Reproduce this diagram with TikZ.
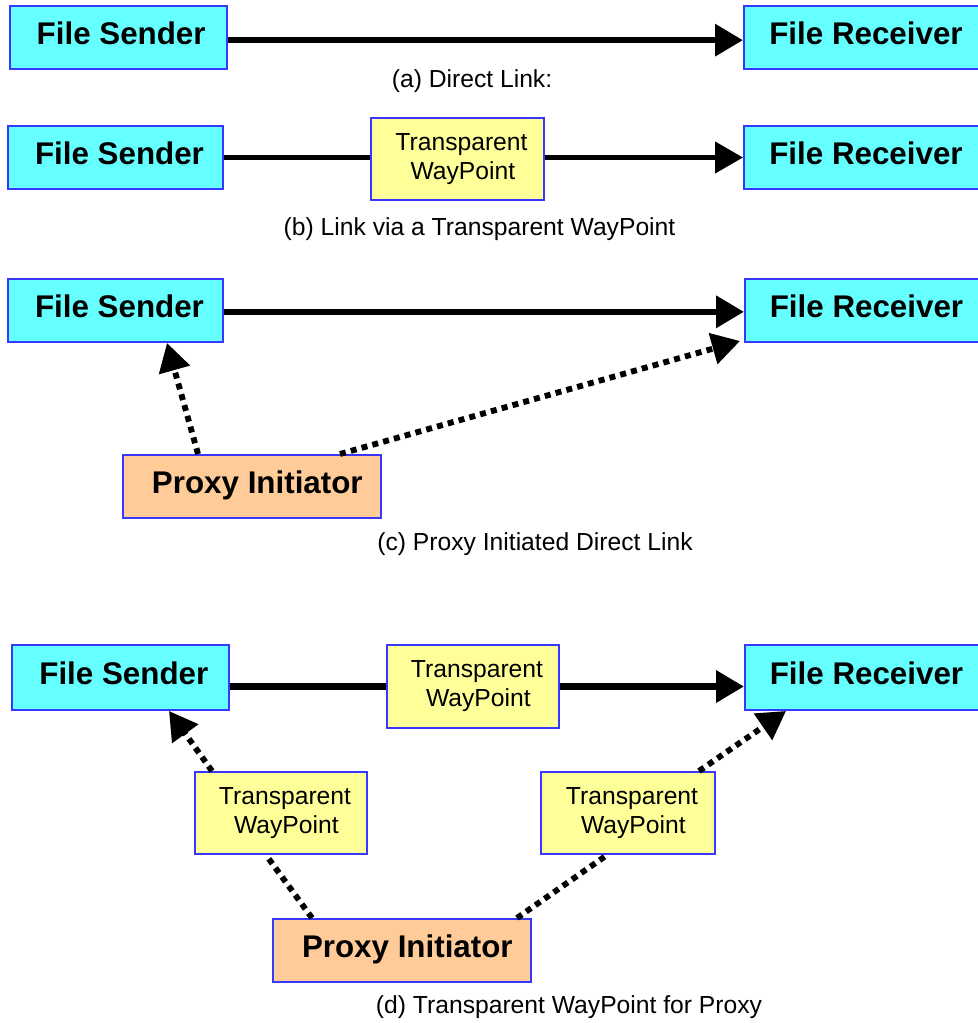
\documentclass[tikz,border=0pt]{standalone}
\usepackage{fontspec}
\setmainfont{Liberation Sans}
\usetikzlibrary{arrows.meta,calc}
\definecolor{boxcyan}{RGB}{102,255,255}
\definecolor{boxyellow}{RGB}{255,255,153}
\definecolor{boxpeach}{RGB}{255,204,153}
\definecolor{boxedge}{RGB}{55,55,255}
\begin{document}
\begin{tikzpicture}[x=0.75pt,y=-0.75pt,
  basebox/.style={draw=boxedge, line width=1.5pt, inner sep=0pt},
  endpoint/.style={basebox, fill=boxcyan, minimum height=47.25pt,
    text height=17pt, text depth=5.9pt,
    font=\fontsize{23.5}{28}\selectfont\bfseries},
  proxybox/.style={basebox, fill=boxpeach, minimum width=193.5pt, minimum height=47.25pt,
    text height=17pt, text depth=5.9pt,
    font=\fontsize{23.5}{28}\selectfont\bfseries},
  waybox/.style={basebox, fill=boxyellow, minimum height=61.5pt, align=center,
    font=\fontsize{18.5}{21.75}\selectfont},
  caption/.style={inner sep=0pt, font=\fontsize{18.5}{22}\selectfont},
  tip/.style={-{Triangle[length=21pt,width=23.25pt]}},
  thicklink/.style={line width=4.9pt},
  thinlink/.style={line width=3.4pt},
  dotlink/.style={line width=4.4pt, dash pattern=on 4.5pt off 3.9pt},
]
\useasboundingbox (0,0) rectangle (977,1023);

% (a) direct link
\node[endpoint, minimum width=162.75pt] (S1) at (118.5,37.5) {\hspace*{4pt}File Sender};
\node[endpoint, minimum width=183pt] (R1) at (866,37.5) {File Receiver};
\draw[thicklink, tip] ([yshift=-2pt]S1.east) -- ([yshift=-2pt]R1.west);
\node[caption] (capA) at (472,81) {(a) Direct Link:};

% (b) link through a transparent waypoint
\node[endpoint, minimum width=161.25pt] (S2) at (115.5,157.5) {\hspace*{6pt}File Sender};
\node[waybox, minimum width=129.75pt] (W2) at (457.5,159) {\hspace*{6pt}Transparent\\\hspace*{8pt}WayPoint};
\node[endpoint, minimum width=183pt] (R2) at (866,157.5) {File Receiver};
\draw[thinlink] (S2.east) -- (S2.east -| W2.west);
\draw[thinlink, tip] (W2.east |- R2.west) -- (R2.west);
\node[caption] (capB) at (479.5,229) {(b) Link via a Transparent WayPoint};

% (c) proxy initiated direct link
\node[endpoint, minimum width=161.25pt] (S3) at (115.5,310.5) {\hspace*{6pt}File Sender};
\node[endpoint, minimum width=182.25pt] (R3) at (866.5,310.5) {File Receiver};
\node[proxybox] (P3) at (252,486.5) {\hspace*{8pt}Proxy Initiator};
\draw[thicklink, tip] ([yshift=-1pt]S3.east) -- ([yshift=-1pt]R3.west);
\draw[dotlink, tip] ($(P3.north west)+(76,0)$) -- ($(S3.south west)+(160,0)$);
\draw[dotlink, tip] ($(P3.north west)+(218,0)$) -- ($(R3.south west)+(-4,-2)$);
\node[caption] (capC) at (535,544) {(c) Proxy Initiated Direct Link};

% (d) transparent waypoints for the proxy
\node[endpoint, minimum width=162.75pt, minimum height=48.75pt] (S4) at (120.5,677.5) {\hspace*{5pt}File Sender};
\node[waybox, minimum width=129pt, minimum height=62.25pt] (W4) at (473,686.5) {\hspace*{6pt}Transparent\\\hspace*{8pt}WayPoint};
\node[endpoint, minimum width=182.25pt, minimum height=48.75pt] (R4) at (866.5,677.5) {File Receiver};
\node[waybox, minimum width=129pt] (WL) at (281,813) {\hspace*{6pt}Transparent\\\hspace*{8pt}WayPoint};
\node[waybox, minimum width=130.5pt] (WR) at (628,813) {\hspace*{6pt}Transparent\\\hspace*{8pt}WayPoint};
\node[proxybox] (P4) at (402,950.5) {\hspace*{8pt}Proxy Initiator};
\draw[thicklink] (S4.east |- W4.west) -- (W4.west);
\draw[thicklink, tip] (W4.east) -- (W4.east -| R4.west);
\draw[dotlink, tip] ($(WL.north west)+(18,0)$) -- ($(S4.south west)+(158,0)$);
\draw[dotlink] ($(P4.north west)+(40,0)$) -- ($(WL.south west)+(72,0)$);
\draw[dotlink] ($(P4.north west)+(245,0)$) -- ($(WR.south west)+(67,0)$);
\draw[dotlink, tip] ($(WR.north west)+(159,0)$) -- ($(R4.south west)+(42,0)$);
\node[caption] (capD) at (569,1007) {(d) Transparent WayPoint for Proxy};
\end{tikzpicture}
\end{document}
